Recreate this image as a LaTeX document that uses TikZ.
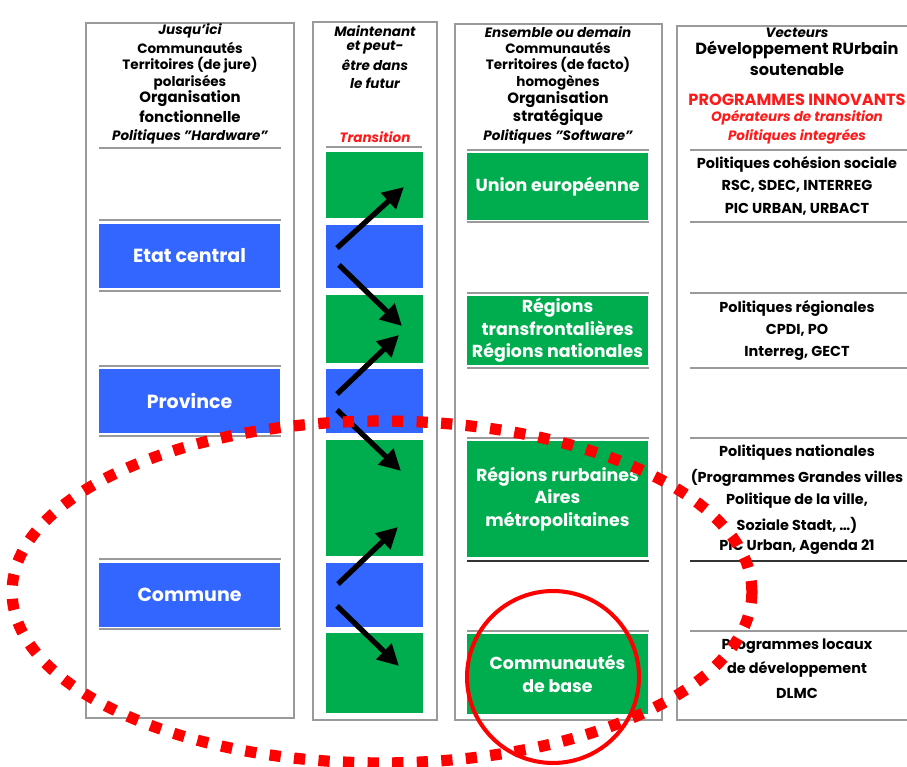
\documentclass[tikz,border=0pt]{standalone}
\usepackage{fontspec}
\setmainfont{Poppins}
\usetikzlibrary{arrows.meta}
\definecolor{boxblue}{HTML}{3366FF}
\definecolor{boxgreen}{HTML}{00AD4E}
\definecolor{rulegray}{HTML}{9A9A9A}
\definecolor{textred}{HTML}{FF1A1A}
\newcommand{\hsmall}{\bfseries\fontsize{7.7}{8.5}\selectfont}
\newcommand{\hbig}{\bfseries\fontsize{8.5}{9.5}\selectfont}
\newcommand{\hlarge}{\bfseries\fontsize{9.2}{10}\selectfont}
\newcommand{\vsmall}{\bfseries\fontsize{8.2}{9}\selectfont}
\begin{document}
\begin{tikzpicture}[x=0.02cm, y=-0.02cm,
  column/.style={draw=rulegray, line width=1.1pt},
  rule/.style={rulegray, line width=1.4pt},
  darkrule/.style={black!80, line width=1.4pt},
  head/.style={inner sep=0pt, font=\hsmall},
  bluebox/.style={fill=boxblue, inner sep=0pt, minimum width=3.62cm, text=white, align=center, font=\bfseries\fontsize{10.8}{12.5}\selectfont},
  greenbox/.style={fill=boxgreen, inner sep=0pt, text=white, align=center, font=\bfseries\fontsize{9.9}{12.8}\selectfont},
  arrow/.style={-{Triangle[length=12pt, width=12pt]}, line width=3pt},
  ring/.style={red, line width=6.4pt, dash pattern=on 6.4pt off 7.6pt}]
\useasboundingbox (0,0) rectangle (907,767);
\clip (0,0) rectangle (907,767);

\draw[column] (86,23) rectangle (294,718);
\draw[column] (313,22) rectangle (437,720);
\draw[column] (455,24) rectangle (662,720);
\draw[column] (677,26) rectangle (915,720);

\foreach \y/\txt [count=\i] in {31/{\itshape Jusqu'ici}, 48/Communautés, 65/{Territoires (de jure)}, 83/polarisées, 99/{\hbig Organisation}, 117/{\hbig fonctionnelle}, 137/{\itshape Politiques "Hardware"}}
  \node[head] (ha\i) at (190,\y) {\txt};
\foreach \y/\txt [count=\i] in {31/Maintenant, 48/et peut-, 65/être dans, 83/le futur, 137/\textcolor{textred}{Transition}}
  \node[head, font=\hsmall\itshape] (hb\i) at (375,\y) {\txt};
\foreach \y/\txt [count=\i] in {32/{\itshape Ensemble ou demain}, 48/Communautés, 65/{Territoires (de facto)}, 83/homogènes, 100/{\hbig Organisation}, 117/{\hbig stratégique}, 137/{\itshape Politiques "Software"}}
  \node[head] (hc\i) at (558,\y) {\txt};
\foreach \y/\txt [count=\i] in {33/{\itshape Vecteurs}, 50/{\hlarge Développement RUrbain}, 70/{\hlarge soutenable}, 100/{\hlarge\color{textred}PROGRAMMES INNOVANTS}, 118/{\itshape\color{textred}Opérateurs de transition}, 137/{\itshape\color{textred}Politiques integrées}}
  \node[head] (hd\i) at (797,\y) {\txt};

\foreach \y in {148,220,291,366,436,559,629}
  \draw[rule] (99,\y) -- (281,\y);
\draw[rule] (326,147) -- (422,147);
\foreach \y in {150,222,293,368,438,631}{
  \draw[rule] (467,\y) -- (649,\y);
  \draw[rule] (690,\y) -- (907,\y);
}
\draw[darkrule] (467,561) -- (649,561);
\draw[darkrule] (690,561) -- (907,561);

\node[bluebox, minimum height=1.28cm] (etat) at (189.5,256) {Etat central};
\node[bluebox, minimum height=1.28cm] (province) at (189.5,401) {Province};
\node[bluebox, minimum height=1.28cm] (commune) at (189.5,595) {Commune};

\node[greenbox, minimum width=1.94cm, minimum height=1.32cm] (g1) at (374.5,185) {};
\node[bluebox, minimum width=1.94cm, minimum height=1.26cm] (b1) at (374.5,256.5) {};
\node[greenbox, minimum width=1.94cm, minimum height=1.36cm] (g2) at (374.5,329) {};
\node[bluebox, minimum width=1.94cm, minimum height=1.28cm] (b2) at (374.5,401) {};
\node[greenbox, minimum width=1.94cm, minimum height=2.32cm] (g3) at (374.5,498) {};
\node[bluebox, minimum width=1.94cm, minimum height=1.28cm] (b3) at (374.5,595) {};
\node[greenbox, minimum width=1.94cm, minimum height=1.6cm] (g4) at (374.5,673) {};

\node[greenbox, minimum width=3.62cm, minimum height=1.34cm] (ue) at (557.5,186.5) {Union européenne};
\node[greenbox, minimum width=3.62cm, minimum height=1.38cm] (regions) at (557.5,330.5) {Régions\\transfrontalières\\Régions nationales};
\node[greenbox, minimum width=3.62cm, minimum height=2.32cm] (rurbaines) at (557.5,499) {Régions rurbaines\\Aires\\métropolitaines};
\node[greenbox, minimum width=3.62cm, minimum height=1.6cm] (base) at (557.5,674) {Communautés\\de base};

\foreach \y/\txt [count=\i] in {164/{Politiques cohésion sociale}, 186/{RSC, SDEC, INTERREG}, 209/{PIC URBAN, URBACT}, 308/{Politiques régionales}, 330/{CPDI, PO}, 353/{Interreg, GECT}, 453/{Politiques nationales}, 478/{(Programmes Grandes villes}, 501/{Politique de la ville,}, 525/{Soziale Stadt, …)}, 547/{PIC Urban, Agenda 21}, 646/{Programmes locaux}, 669/{de développement}, 693/DLMC}
  \node[head, font=\vsmall] (v\i) at (797,\y) {\txt};

\coordinate (s1) at (337,248); \coordinate (e1) at (404,187);
\coordinate (s2) at (339,265); \coordinate (e2) at (402,326);
\coordinate (s3) at (337,394); \coordinate (e3) at (399,335);
\coordinate (s4) at (337,410); \coordinate (e4) at (401,471);
\coordinate (s5) at (338,584); \coordinate (e5) at (398,527);
\coordinate (s6) at (337,606); \coordinate (e6) at (399,666);
\foreach \i in {1,...,6}
  \draw[arrow] (s\i) -- (e\i);

\draw[ring] (382,592) ellipse [x radius=7.4cm, y radius=3.42cm];
\draw[red, line width=2.3pt] (553,677) circle [radius=1.72cm];
\end{tikzpicture}
\end{document}
